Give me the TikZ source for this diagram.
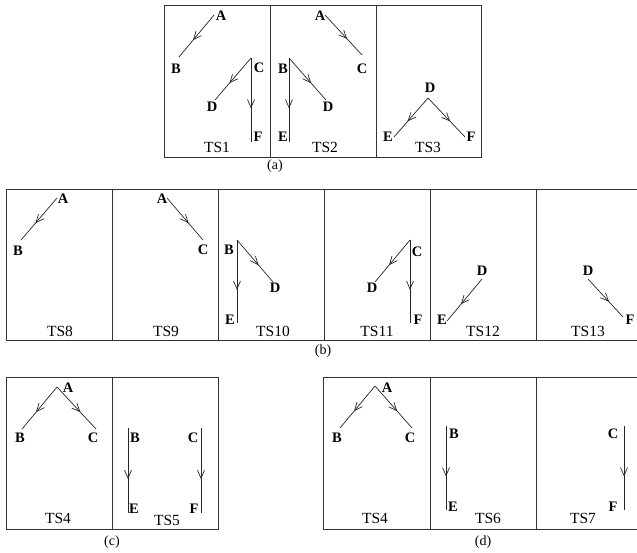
\documentclass[tikz,border=0pt]{standalone}
\usepackage{fontspec}
\setmainfont{Liberation Serif}
\usetikzlibrary{arrows.meta,decorations.markings}
\tikzset{
  panel/.style={draw=black!80, line width=0.9pt},
  edge/.style={draw=black!85, line width=0.7pt, postaction={decorate},
    decoration={markings, mark=at position 0.6 with {\arrow{Straight Barb[length=8pt,width=7pt]}}}},
  lab/.style={font=\fontsize{14.5}{14.5}\selectfont\bfseries, inner sep=0pt},
  tslab/.style={font=\fontsize{15.5}{15.5}\selectfont, inner sep=0pt},
  captxt/.style={font=\fontsize{14}{14}\selectfont, inner sep=0pt}
}
\begin{document}
\begin{tikzpicture}[x=1pt,y=-1pt]
\useasboundingbox (0,0) rectangle (637,552);
\clip (0,0) rectangle (637,552);
\fill[white] (0,0) rectangle (637,552);

% ---------- panel (a) ----------
\draw[panel] (164,5) rectangle (481,157);
\draw[panel] (270,5) -- (270,157);
\draw[panel] (376,5) -- (376,157);
\node[captxt] (capa) at (275,166) {(a)};
% TS1
\node[lab] (a1Al) at (221,16) {A};
\node[lab] (a1Bl) at (176,69) {B};
\node[lab] (a1Cl) at (259,68) {C};
\node[lab] (a1Dl) at (212,107) {D};
\node[lab] (a1Fl) at (258,137) {F};
\node[tslab] (ts1) at (217,147) {TS1};
\coordinate (a1a) at (214,15); \coordinate (a1b) at (179,57);
\coordinate (a1c) at (251,58); \coordinate (a1d) at (215,100); \coordinate (a1f) at (251,142);
\draw[edge] (a1a) -- (a1b);
\draw[edge] (a1c) -- (a1d);
\draw[edge] (a1c) -- (a1f);
% TS2
\node[lab] (a2Al) at (320,16) {A};
\node[lab] (a2Cl) at (362,69) {C};
\node[lab] (a2Bl) at (283,69) {B};
\node[lab] (a2Dl) at (328,107) {D};
\node[lab] (a2El) at (283,137) {E};
\node[tslab] (ts2) at (325,147) {TS2};
\coordinate (a2a) at (325,15); \coordinate (a2c) at (362,55);
\coordinate (a2b) at (289,58); \coordinate (a2d) at (326,100); \coordinate (a2e) at (289,142);
\draw[edge] (a2a) -- (a2c);
\draw[edge] (a2b) -- (a2d);
\draw[edge] (a2b) -- (a2e);
% TS3
\node[lab] (a3Dl) at (430,88) {D};
\node[lab] (a3El) at (388,137) {E};
\node[lab] (a3Fl) at (471,137) {F};
\node[tslab] (ts3) at (428,147) {TS3};
\coordinate (a3d) at (428,98); \coordinate (a3e) at (394,137); \coordinate (a3f) at (465,137);
\draw[edge] (a3d) -- (a3e);
\draw[edge] (a3d) -- (a3f);

% ---------- panel (b) ----------
\draw[panel] (6,189) rectangle (642,340);
\foreach \xx in {112,218,324,430,536} \draw[panel] (\xx,189) -- (\xx,340);
\node[captxt] (capb) at (323,351) {(b)};
% TS8
\node[lab] (b8Al) at (63,199) {A};
\node[lab] (b8Bl) at (18,251) {B};
\node[tslab] (ts8) at (60,331) {TS8};
\coordinate (b8a) at (57,198); \coordinate (b8b) at (21,240);
\draw[edge] (b8a) -- (b8b);
% TS9
\node[lab] (b9Al) at (162,199) {A};
\node[lab] (b9Cl) at (203,250) {C};
\node[tslab] (ts9) at (166,331) {TS9};
\coordinate (b9a) at (167,198); \coordinate (b9c) at (203,240);
\draw[edge] (b9a) -- (b9c);
% TS10
\node[lab] (b10Bl) at (229,250) {B};
\node[lab] (b10Dl) at (275,288) {D};
\node[lab] (b10El) at (230,320) {E};
\node[tslab] (ts10) at (273,331) {TS10};
\coordinate (b10b) at (237,240); \coordinate (b10e) at (237,323); \coordinate (b10d) at (273,282);
\draw[edge] (b10b) -- (b10d);
\draw[edge] (b10b) -- (b10e);
% TS11
\node[lab] (b11Cl) at (417,252) {C};
\node[lab] (b11Dl) at (372,288) {D};
\node[lab] (b11Fl) at (418,320) {F};
\node[tslab] (ts11) at (377,331) {TS11};
\coordinate (b11c) at (410,240); \coordinate (b11d) at (375,282); \coordinate (b11f) at (410,323);
\draw[edge] (b11c) -- (b11d);
\draw[edge] (b11c) -- (b11f);
% TS12
\node[lab] (b12Dl) at (482,271) {D};
\node[lab] (b12El) at (442,320) {E};
\node[tslab] (ts12) at (483,331) {TS12};
\coordinate (b12d) at (482,279); \coordinate (b12e) at (447,321);
\draw[edge] (b12d) -- (b12e);
% TS13
\node[lab] (b13Dl) at (588,271) {D};
\node[lab] (b13Fl) at (630,320) {F};
\node[tslab] (ts13) at (588,331) {TS13};
\coordinate (b13d) at (588,279); \coordinate (b13f) at (623,317);
\draw[edge] (b13d) -- (b13f);

% ---------- panel (c) ----------
\draw[panel] (6,377) rectangle (218,529);
\draw[panel] (112,377) -- (112,529);
\node[captxt] (capc) at (112,542) {(c)};
% TS4
\node[lab] (c4Al) at (68,388) {A};
\node[lab] (c4Bl) at (20,438) {B};
\node[lab] (c4Cl) at (93,438) {C};
\node[tslab] (ts4c) at (58,518) {TS4};
\coordinate (c4a) at (57,387); \coordinate (c4b) at (22,429); \coordinate (c4c) at (96,429);
\draw[edge] (c4a) -- (c4b);
\draw[edge] (c4a) -- (c4c);
% TS5
\node[lab] (c5Bl) at (135,438) {B};
\node[lab] (c5El) at (134,509) {E};
\node[lab] (c5Cl) at (193,438) {C};
\node[lab] (c5Fl) at (194,509) {F};
\node[tslab] (ts5) at (167,520) {TS5};
\coordinate (c5b) at (128,428); \coordinate (c5e) at (128,513);
\coordinate (c5c) at (201,428); \coordinate (c5f) at (201,513);
\draw[edge] (c5b) -- (c5e);
\draw[edge] (c5c) -- (c5f);

% ---------- panel (d) ----------
\draw[panel] (323,377) rectangle (642,529);
\draw[panel] (430,377) -- (430,529);
\draw[panel] (536,377) -- (536,529);
\node[captxt] (capd) at (483,542) {(d)};
% TS4
\node[lab] (d4Al) at (387,388) {A};
\node[lab] (d4Bl) at (337,438) {B};
\node[lab] (d4Cl) at (410,438) {C};
\node[tslab] (ts4d) at (375,518) {TS4};
\coordinate (d4a) at (375,386); \coordinate (d4b) at (340,428); \coordinate (d4c) at (412,428);
\draw[edge] (d4a) -- (d4b);
\draw[edge] (d4a) -- (d4c);
% TS6
\node[lab] (d6Bl) at (454,434) {B};
\node[lab] (d6El) at (453,507) {E};
\node[tslab] (ts6) at (488,518) {TS6};
\coordinate (d6b) at (446,426); \coordinate (d6e) at (446,510);
\draw[edge] (d6b) -- (d6e);
% TS7
\node[lab] (d7Cl) at (613,434) {C};
\node[lab] (d7Fl) at (613,507) {F};
\node[tslab] (ts7) at (583,518) {TS7};
\coordinate (d7c) at (624,426); \coordinate (d7f) at (624,510);
\draw[edge] (d7c) -- (d7f);
\end{tikzpicture}
\end{document}
